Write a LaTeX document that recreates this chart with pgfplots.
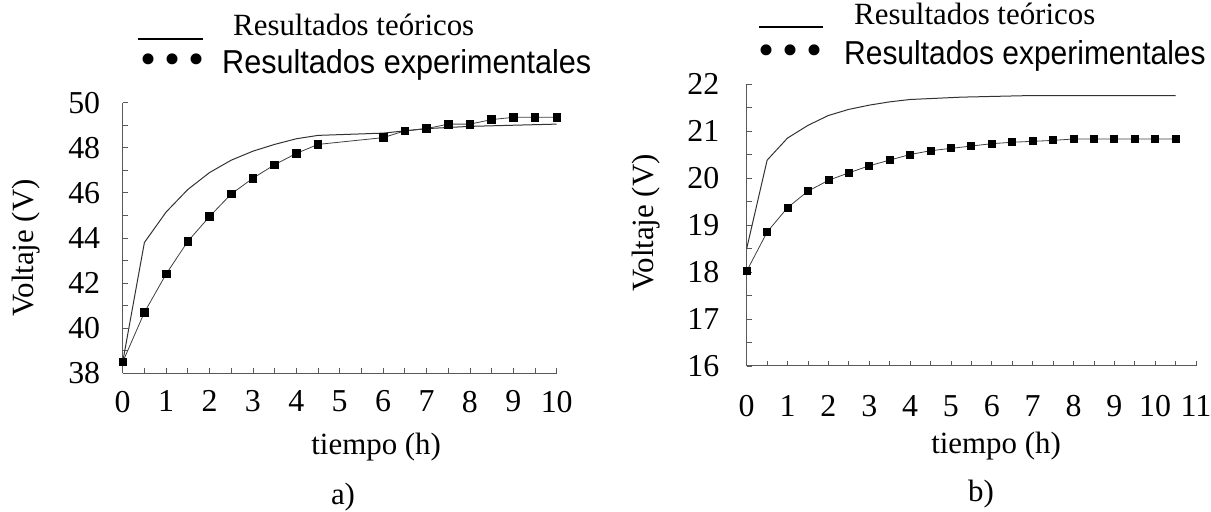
\documentclass[border=0pt]{standalone}
\usepackage{fontspec}
\setmainfont{Liberation Serif}
\newfontfamily\sansf{Liberation Sans}
\usepackage{graphicx}
\usepackage{pgfplots}
\pgfplotsset{compat=1.18}

\pgfplotsset{
  myax/.style={
    scale only axis,
    axis lines=left,
    axis line style={-, draw=black!65, line width=1bp},
    tick style={draw=black!65, line width=0.8bp},
    tick align=inside,
    major tick length=5bp, minor tick length=5bp,
    minor x tick num=1, minor y tick num=1,
    /pgf/number format/assume math mode=true,
    tick label style={font=\fontsize{32}{38}\selectfont},
    label style={font=\fontsize{31}{37}\selectfont},
    clip=false,
  },
  teo/.style={no marks, draw=black!80, line width=1bp},
  expe/.style={mark=square*, mark size=3.8bp, draw=black!75, line width=0.8bp,
    mark options={fill=black, draw=black, solid}},
}

\begin{document}
\begin{tikzpicture}[x=1bp,y=1bp]
\useasboundingbox (0,0) rectangle (1211,512);

% ---------- a) ----------
\begin{axis}[myax,
  at={(122.7bp,138.7bp)}, anchor=south west,
  width=434bp, height=270.6bp,
  xmin=0, xmax=10, ymin=38, ymax=50,
  xtick={0,...,10}, ytick={38,40,...,50},
  xticklabel style={yshift=-14bp},
  yticklabel style={xshift=-19bp},
  xlabel={tiempo (h)}, ylabel={Voltaje (V)},
  xlabel style={at={(axis description cs:0.584,-0.272)}, anchor=center},
  ylabel style={at={(axis description cs:-0.2228,0.463)}, anchor=center},
]
\addplot[teo] coordinates {
 (0,38.5) (0.5,43.8) (1,45.15) (1.5,46.15) (2,46.9) (2.5,47.45) (3,47.85)
 (3.5,48.15) (4,48.4) (4.5,48.55) (6,48.65) (7,48.85) (8,48.95) (9,49.0) (10,49.05)
};
\addplot[expe] coordinates {
 (0,38.5) (0.5,40.7) (1,42.4) (1.5,43.85) (2,44.95) (2.5,45.95) (3,46.65)
 (3.5,47.25) (4,47.75) (4.5,48.15) (6,48.45) (6.5,48.75) (7,48.85) (7.5,49.05)
 (8,49.05) (8.5,49.25) (9,49.35) (9.5,49.35) (10,49.35)
};
\node[font=\fontsize{31}{37}\selectfont] at (rel axis cs:0.5076,-0.457) {a)};
\end{axis}

% ---------- b) ----------
\begin{axis}[myax,
  at={(746.7bp,146bp)}, anchor=south west,
  width=449.3bp, height=282bp,
  xmin=0, xmax=11, ymin=16, ymax=22,
  xtick={0,...,11}, ytick={16,...,22},
  xticklabel style={yshift=-26bp},
  yticklabel style={xshift=-24bp},
  xlabel={tiempo (h)}, ylabel={Voltaje (V)},
  xlabel style={at={(axis description cs:0.555,-0.284)}, anchor=center},
  ylabel style={at={(axis description cs:-0.224,0.507)}, anchor=center},
]
\addplot[teo] coordinates {
 (0,18.5) (0.5,20.38) (1,20.85) (1.5,21.12) (2,21.33) (2.5,21.46) (3,21.55)
 (3.5,21.62) (4,21.67) (4.5,21.69) (5.25,21.72) (6.75,21.75) (10.5,21.75)
};
\addplot[expe, mark size=3.5bp] coordinates {
 (0,18.02) (0.5,18.85) (1,19.37) (1.5,19.72) (2,19.95) (2.5,20.11) (3,20.26)
 (3.5,20.38) (4,20.5) (4.5,20.58) (5,20.63) (5.5,20.68) (6,20.73) (6.5,20.76)
 (7,20.78) (7.5,20.8) (8,20.83) (8.5,20.83) (9,20.83) (9.5,20.83) (10,20.83) (10.5,20.83)
};
\node[font=\fontsize{31}{37}\selectfont] at (rel axis cs:0.5215,-0.454) {b)};
\end{axis}

% ---------- legends (text) ----------
\node[anchor=west, inner sep=0] at (138bp,473bp) {\rule{65bp}{1.3bp}};
\node[anchor=base west, inner sep=0, font=\fontsize{31}{37}\selectfont] at (233bp,476bp) {Resultados teóricos};
\node[anchor=base west, inner sep=0, font=\fontsize{46}{50}\selectfont] at (140bp,437bp) {\textbullet\hspace{8bp}\textbullet\hspace{8bp}\textbullet};
\node[anchor=base west, inner sep=0, font=\sansf\fontsize{32}{38}\selectfont] at (222bp,438bp) {\scalebox{0.96}[1.04]{Resultados experimentales}};

\node[anchor=west, inner sep=0] at (759bp,485bp) {\rule{64bp}{1.3bp}};
\node[anchor=base west, inner sep=0, font=\fontsize{31}{37}\selectfont] at (854bp,487bp) {Resultados teóricos};
\node[anchor=base west, inner sep=0, font=\fontsize{46}{50}\selectfont] at (758bp,446bp) {\textbullet\hspace{8bp}\textbullet\hspace{8bp}\textbullet};
\node[anchor=base west, inner sep=0, font=\sansf\fontsize{32}{38}\selectfont] at (844bp,447bp) {\scalebox{0.94}[1.04]{Resultados experimentales}};
\end{tikzpicture}
\end{document}
